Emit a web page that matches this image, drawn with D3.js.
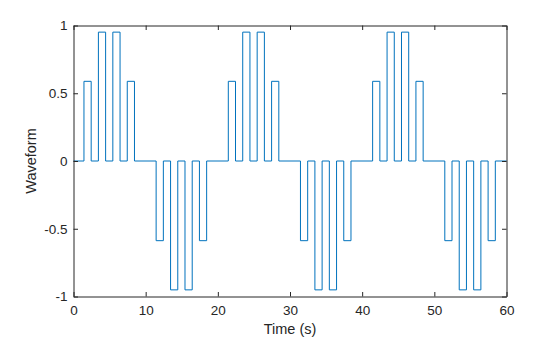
<!DOCTYPE html>
<html>
<head>
<meta charset="utf-8">
<script src="https://cdn.jsdelivr.net/npm/d3@7"></script>
<style>
  html, body { margin: 0; padding: 0; background: #fff; }
  svg { display: block; }
  text { font-family: "Liberation Sans", Arial, Helvetica, sans-serif; fill: #262626; }
</style>
</head>
<body>
<svg id="chart" width="560" height="337"></svg>
<script>
// Sample instants (s) and the held level of each pulse
const sampleTimes = [0, 2, 4, 6, 8, 10, 12, 14, 16, 18,
                     20, 22, 24, 26, 28, 30, 32, 34, 36, 38,
                     40, 42, 44, 46, 48, 50, 52, 54, 56, 58];
const sampleValues = [0, 0.588, 0.951, 0.951, 0.588, 0, -0.588, -0.951, -0.951, -0.588,
                      0, 0.588, 0.951, 0.951, 0.588, 0, -0.588, -0.951, -0.951, -0.588,
                      0, 0.588, 0.951, 0.951, 0.588, 0, -0.588, -0.951, -0.951, -0.588];
// Each pulse spans from (t - pulseLead) to (t + pulseTrail)
const pulseLead = 0.55;
const pulseTrail = 0.45;
const timeRange = [0, 60];
const xTicks = [0, 10, 20, 30, 40, 50, 60];
const yTicks = [-1, -0.5, 0, 0.5, 1];
const yTickLabels = ["-1", "-0.5", "0", "0.5", "1"];

const svg = d3.select("#chart");
const plotLeft = 73.5, plotRight = 506.5, plotTop = 25.5, plotBottom = 296.5;

const x = d3.scaleLinear().domain(timeRange).range([plotLeft, plotRight]);
const y = d3.scaleLinear().domain([-1, 1]).range([plotBottom, plotTop]);

// Build the piecewise-constant waveform: zero between pulses
const pts = [[timeRange[0], 0]];
sampleTimes.forEach((t, i) => {
  const v = sampleValues[i];
  const t0 = t - pulseLead, t1 = t + pulseTrail;
  if (v === 0) return;
  pts.push([t0, 0], [t0, v], [t1, v], [t1, 0]);
});
pts.push([timeRange[1], 0]);

const lineGen = d3.line().x(d => x(d[0])).y(d => y(d[1]));

svg.append("path")
  .datum(pts)
  .attr("d", lineGen)
  .attr("fill", "none")
  .attr("stroke", "#0072BD")
  .attr("stroke-width", 1);

// Axes box with inward ticks
const tickLen = 4.5;
const axisColor = "#262626";

const gx = svg.append("g").attr("transform", `translate(0,${plotBottom})`)
  .call(d3.axisBottom(x).tickValues(xTicks).tickSizeInner(-tickLen).tickSizeOuter(0).tickPadding(9).tickFormat(d3.format("d")));
const gxTop = svg.append("g").attr("transform", `translate(0,${plotTop})`)
  .call(d3.axisTop(x).tickValues(xTicks).tickSizeInner(-tickLen).tickSizeOuter(0).tickFormat(""));
const gy = svg.append("g").attr("transform", `translate(${plotLeft},0)`)
  .call(d3.axisLeft(y).tickValues(yTicks).tickSizeInner(-tickLen).tickSizeOuter(0).tickPadding(6)
    .tickFormat((d, i) => yTickLabels[i]));
const gyRight = svg.append("g").attr("transform", `translate(${plotRight},0)`)
  .call(d3.axisRight(y).tickValues(yTicks).tickSizeInner(-tickLen).tickSizeOuter(0).tickFormat(""));

[gx, gxTop, gy, gyRight].forEach(g => {
  g.selectAll("path.domain").attr("stroke", axisColor).attr("stroke-width", 1);
  g.selectAll(".tick line").attr("stroke", axisColor).attr("stroke-width", 1);
  g.selectAll("text").attr("font-size", 13.5).attr("fill", axisColor)
    .attr("font-family", '"Liberation Sans", Arial, sans-serif');
});

// Axis titles
svg.append("text")
  .attr("x", (plotLeft + plotRight) / 2).attr("y", 334)
  .attr("text-anchor", "middle").attr("font-size", 14.5)
  .text("Time (s)");

svg.append("text")
  .attr("transform", `translate(36,${(plotTop + plotBottom) / 2}) rotate(-90)`)
  .attr("text-anchor", "middle").attr("font-size", 14.5)
  .text("Waveform");
</script>
</body>
</html>
